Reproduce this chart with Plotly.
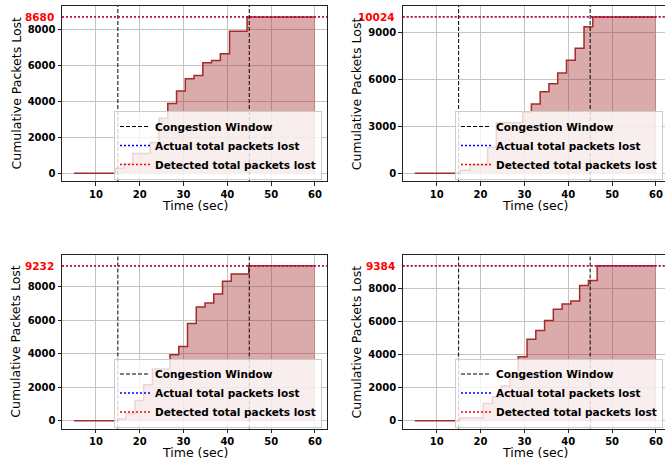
import plotly.graph_objects as go

# ---------------- data ----------------
TIME_TL = [5, 14.4, 16.4, 18.4, 22.4, 24.4, 26.4, 28.4, 30.4, 32.4, 34.4, 36.4, 38.4, 40.5, 44.5, 60]
LOST_TL = [0, 270, 530, 1090, 1700, 3050, 3870, 4560, 5240, 5430, 6130, 6260, 6640, 7890, 8680, 8680]

TIME_TR = [5, 15.4, 17.6, 21.6, 23.6, 29.6, 31.6, 33.6, 35.6, 37.6, 39.6, 41.6, 43.6, 45.6, 60]
LOST_TR = [0, 190, 520, 1650, 3240, 3920, 4440, 5230, 5740, 6420, 7250, 8020, 9400, 10024, 10024]

TIME_BL = [5, 15, 16.9, 18.9, 20.9, 22.9, 26.9, 28.9, 30.9, 32.9, 34.9, 36.9, 38.9, 40.9, 44.9, 60]
LOST_BL = [0, 120, 410, 1200, 2150, 3090, 3930, 4430, 5790, 6780, 7020, 7550, 8320, 8750, 9232, 9232]

TIME_BR = [5, 15.2, 20.6, 22.7, 24.7, 26.7, 28.6, 30.6, 32.6, 34.6, 36.6, 38.6, 40.6, 42.6, 44.6, 46.6, 60]
LOST_BR = [0, 160, 1050, 1450, 2100, 2700, 3870, 4940, 5460, 6070, 6750, 7070, 7250, 8200, 8500, 9384, 9384]

TOTALS = [8680, 10024, 9232, 9384]
CW_START = 15
CW_END = 45

X_TICKS = [10, 20, 30, 40, 50, 60]
Y_TICKS_TL = [0, 2000, 4000, 6000, 8000]
Y_TICKS_TR = [0, 3000, 6000, 9000]
Y_TICKS_BL = [0, 2000, 4000, 6000, 8000]
Y_TICKS_BR = [0, 2000, 4000, 6000, 8000]

LEGEND_NAMES = ["Congestion Window", "Actual total packets lost", "Detected total packets lost"]
X_TITLE = "Time (sec)"
Y_TITLE = "Cumulative Packets Lost"

# ---------------- layout geometry ----------------
W, H = 665, 464
FONT = "DejaVu Sans"
DASH = "4px,2px"
DOT = "2px,2px"

def px_x(p):
    return p / W

def px_y(p):
    return (H - p) / H

# (left, right, top, bottom) in pixels
BOXES = [
    (62, 327, 6, 181),
    (402.7, 668, 6, 181),
    (62, 327, 255, 428.5),
    (402.7, 668, 255, 428.5),
]

panels = [
    (TIME_TL, LOST_TL, TOTALS[0], Y_TICKS_TL),
    (TIME_TR, LOST_TR, TOTALS[1], Y_TICKS_TR),
    (TIME_BL, LOST_BL, TOTALS[2], Y_TICKS_BL),
    (TIME_BR, LOST_BR, TOTALS[3], Y_TICKS_BR),
]

fig = go.Figure()
layout = dict(
    width=W, height=H,
    margin=dict(l=0, r=0, t=0, b=0),
    paper_bgcolor="white", plot_bgcolor="white",
    font=dict(family=FONT, color="black"),
    showlegend=True,
)
shapes = []
annotations = []

for i, (times, lost, total, yticks) in enumerate(panels):
    s = "" if i == 0 else str(i + 1)
    left, right, top, bottom = BOXES[i]
    x_lo, x_hi = 2.25, 62.75
    xspan = x_hi - x_lo
    ppu = (right - left) / xspan
    vis_right = min(right, W)
    x_hi_vis = x_lo + (vis_right - left) / ppu
    y_lo, y_hi = -0.05 * total, 1.07 * total

    is_right = right > W

    layout["xaxis" + s] = dict(
        domain=[px_x(left), px_x(vis_right)], anchor="y" + s,
        range=[x_lo, x_hi_vis],
        tickvals=X_TICKS, ticktext=[str(v) for v in X_TICKS],
        tickfont=dict(family=FONT, size=10, weight="bold", color="black"),
        showgrid=True, gridcolor="#c4c4c4", gridwidth=1,
        zeroline=False,
        showline=True, linecolor="#222", linewidth=1, mirror=True,
        ticks="outside", ticklen=3.5, tickcolor="#222", tickwidth=1,
    )
    layout["yaxis" + s] = dict(
        domain=[px_y(bottom), px_y(top)], anchor="x" + s,
        range=[y_lo, y_hi],
        tickvals=yticks, ticktext=[str(v) for v in yticks],
        tickfont=dict(family=FONT, size=10, weight="bold", color="black"),
        showgrid=True, gridcolor="#c4c4c4", gridwidth=1,
        zeroline=False,
        showline=True, linecolor="#222", linewidth=1, mirror=not is_right,
        ticks="outside", ticklen=3.5, tickcolor="#222", tickwidth=1,
    )

    fig.add_trace(go.Scatter(
        x=times, y=lost, mode="lines",
        line=dict(shape="hv", color="#a52a2a", width=1.5),
        fill="tozeroy", fillcolor="rgba(165,42,42,0.4)",
        showlegend=False, hoverinfo="skip",
        xaxis="x" + s, yaxis="y" + s,
    ))

    for xv in (CW_START, CW_END):
        shapes.append(dict(
            type="line", xref="x" + s, yref="y" + s + " domain",
            x0=xv, x1=xv, y0=0, y1=1,
            line=dict(color="black", width=1, dash=DASH), layer="above",
        ))
    shapes.append(dict(
        type="line", xref="x" + s + " domain", yref="y" + s,
        x0=0, x1=1, y0=total, y1=total,
        line=dict(color="blue", width=1.3, dash=DOT), layer="above",
    ))
    shapes.append(dict(
        type="line", xref="x" + s + " domain", yref="y" + s,
        x0=0, x1=1, y0=total, y1=total,
        line=dict(color="red", width=1.3, dash=DOT), layer="above",
    ))

    leg = "legend" + s
    styles = [dict(color="black", width=1.2, dash=DASH),
              dict(color="blue", width=1.5, dash=DOT),
              dict(color="red", width=1.5, dash=DOT)]
    for name, st in zip(LEGEND_NAMES, styles):
        fig.add_trace(go.Scatter(
            x=[None], y=[None], mode="lines", name=name, line=st,
            legend=leg, showlegend=True,
            xaxis="x" + s, yaxis="y" + s,
        ))
    layout[leg] = dict(
        x=px_x(min(right - 5, W - 2)), y=px_y(bottom - 1),
        xanchor="right", yanchor="bottom",
        bgcolor="rgba(255,255,255,0.8)", bordercolor="#cccccc", borderwidth=1,
        font=dict(family=FONT, size=10.5, weight="bold", color="black"),
        itemwidth=30, tracegroupgap=0,
    )

    annotations.append(dict(
        text=str(total), xref="x" + s + " domain", yref="y" + s,
        x=0, y=total, xanchor="right", yanchor="middle", xshift=-6,
        showarrow=False,
        font=dict(family=FONT, size=10.5, weight="bold", color="red"),
    ))
    annotations.append(dict(
        text=Y_TITLE, xref="paper", yref="paper",
        x=px_x(left - 46), y=px_y((top + bottom) / 2),
        xanchor="center", yanchor="middle", textangle=-90, showarrow=False,
        font=dict(family=FONT, size=12.5, color="black"),
    ))
    annotations.append(dict(
        text=X_TITLE, xref="paper", yref="paper",
        x=px_x((left + right) / 2), y=px_y(bottom + 24),
        xanchor="center", yanchor="middle", showarrow=False,
        font=dict(family=FONT, size=12.5, color="black"),
    ))

layout["shapes"] = shapes
layout["annotations"] = annotations
fig.update_layout(**layout)
fig.write_html("out.html", config={"displayModeBar": False},
               post_script="document.body.style.margin='0';")
